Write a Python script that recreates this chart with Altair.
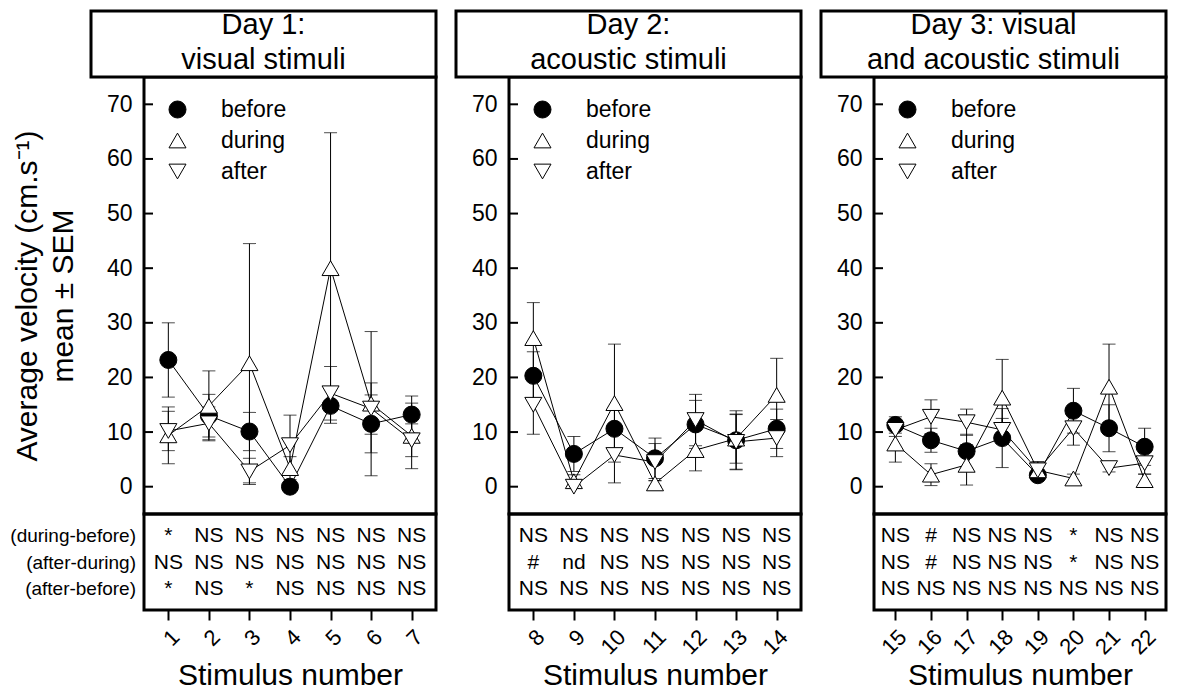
import altair as alt
import pandas as pd

FONT = "Liberation Sans"

# ---------------- data ----------------
stimulus = list(range(1, 23))
day = [1] * 7 + [2] * 7 + [3] * 8

before_mean = [23.2, 13.0, 10.1, 0.0, 14.8, 11.5, 13.2,
               20.3, 6.0, 10.6, 5.2, 11.4, 8.5, 10.6,
               11.3, 8.5, 6.5, 8.9, 2.1, 13.9, 10.7, 7.3]
before_sem = [6.8, 3.9, 3.5, 0.0, 3.2, 5.3, 3.4,
              4.4, 3.2, 4.0, 3.7, 4.4, 5.4, 3.6,
              1.5, 2.2, 3.1, 5.4, 0.8, 4.1, 4.3, 3.4]
during_mean = [9.4, 14.8, 22.6, 3.4, 40.0, 15.2, 9.3,
               27.2, 1.0, 15.3, 0.6, 6.7, 8.8, 16.8,
               7.9, 2.2, 4.0, 16.3, 3.0, 1.5, 18.3, 1.2]
during_sem = [5.2, 6.4, 21.9, 2.1, 24.8, 13.2, 6.0,
              6.5, 1.2, 10.8, 0.5, 3.8, 4.5, 6.7,
              3.4, 2.0, 3.7, 7.0, 1.5, 0.8, 7.8, 1.1]
after_mean = [10.2, 11.6, 2.8, 7.6, 17.1, 14.3, 8.5,
              15.0, 0.0, 5.8, 4.5, 12.2, 8.2, 8.9,
              10.4, 12.8, 11.8, 10.4, 3.0, 10.7, 3.4, 4.3]
after_sem = [3.6, 3.0, 2.4, 5.5, 4.9, 4.7, 3.0,
             5.4, 0.0, 5.1, 3.4, 4.7, 5.0, 3.4,
             1.2, 3.1, 2.4, 2.1, 1.6, 3.1, 0.7, 2.0]

series_names = ["before", "during", "after"]
series_shapes = ["circle", "triangle-up", "triangle-down"]
series_fills = ["black", "white", "white"]
series_strokes = ["black", "black", "black"]

comparisons = ["(during-before)", "(after-during)", "(after-before)"]
during_before = ["*", "NS", "NS", "NS", "NS", "NS", "NS",
                 "NS", "NS", "NS", "NS", "NS", "NS", "NS",
                 "NS", "#", "NS", "NS", "NS", "*", "NS", "NS"]
after_during = ["NS", "NS", "NS", "NS", "NS", "NS", "NS",
                "#", "nd", "NS", "NS", "NS", "NS", "NS",
                "NS", "#", "NS", "NS", "NS", "*", "NS", "NS"]
after_before = ["*", "NS", "*", "NS", "NS", "NS", "NS",
                "NS", "NS", "NS", "NS", "NS", "NS", "NS",
                "NS", "NS", "NS", "NS", "NS", "NS", "NS", "NS"]

panel_titles = ["Day 1:\nvisual stimuli", "Day 2:\nacoustic stimuli",
                "Day 3: visual\nand acoustic stimuli"]
y_ticks = [0, 10, 20, 30, 40, 50, 60, 70]
y_title = ["Average velocity (cm.s\u207b\u00b9)", "mean \u00b1 SEM"]
x_title = "Stimulus number"

# ---------------- tables ----------------
rows = []
for i, s in enumerate(stimulus):
    for name, m, e in [("before", before_mean, before_sem),
                       ("during", during_mean, during_sem),
                       ("after", after_mean, after_sem)]:
        rows.append(dict(stim=s, day=day[i], series=name, mean=m[i],
                         lo=m[i] - e[i], hi=m[i] + e[i]))
df = pd.DataFrame(rows)

sig_rows = []
for i, s in enumerate(stimulus):
    for comp, arr in zip(comparisons, [during_before, after_during, after_before]):
        sig_rows.append(dict(stim=s, day=day[i], comparison=comp, text=arr[i]))
sig_df = pd.DataFrame(sig_rows)

# ---------------- layout constants ----------------
W, H = 292, 437
ANN_H = 96
BOX_LEFT = -53
TITLE_H = 66


def legend():
    return alt.Legend(orient="none", legendX=22, legendY=21, title=None,
                      labelFontSize=23, labelColor="black",
                      symbolSize=290, symbolStrokeColor="black",
                      symbolStrokeWidth=1, labelOffset=32,
                      rowPadding=7, padding=0)


def panel(d):
    first = d == 1
    stims = [s for s, dd in zip(stimulus, day) if dd == d]
    data = df[df.day == d]
    sig = sig_df[sig_df.day == d]

    xs = alt.Scale(domain=[stims[0] - 0.6, stims[-1] + 0.6], nice=False, zero=False)
    x = alt.X("stim:Q", scale=xs,
              axis=alt.Axis(values=stims, offset=ANN_H, domain=False, grid=False,
                            tickSize=10, tickWidth=2, tickColor="black",
                            labelAngle=-45, labelFontSize=22, labelPadding=6,
                            labelColor="black", title=x_title, titleFontSize=30,
                            titleFontWeight="normal", titleColor="black",
                            titleBaseline="alphabetic", titleY=74))
    ys = alt.Scale(domain=[-5, 75], nice=False, zero=False)
    yaxis = alt.Axis(values=y_ticks, domain=False, ticks=False, tickSize=0, grid=False,
                     labelFontSize=23, labelPadding=12, labelColor="black",
                     title=y_title if first else None, titleFontSize=30,
                     titleFontWeight="normal", titleColor="black",
                     titlePadding=28, titleLineHeight=36)

    base = alt.Chart(data)
    lines = base.mark_line(color="black", strokeWidth=1).encode(
        x=x, y=alt.Y("mean:Q", scale=ys, axis=yaxis), detail="series:N", order="stim:Q")
    bars = base.mark_rule(color="black", strokeWidth=1).encode(
        x="stim:Q", y="lo:Q", y2="hi:Q")
    cap_lo = base.mark_tick(color="black", orient="horizontal", size=13, thickness=1).encode(
        x="stim:Q", y="lo:Q")
    cap_hi = base.mark_tick(color="black", orient="horizontal", size=13, thickness=1).encode(
        x="stim:Q", y="hi:Q")
    pts = base.mark_point(filled=True, strokeWidth=1, size=290, opacity=1).encode(
        x="stim:Q", y="mean:Q",
        shape=alt.Shape("series:N", scale=alt.Scale(domain=series_names, range=series_shapes),
                        legend=legend()),
        fill=alt.Fill("series:N", scale=alt.Scale(domain=series_names, range=series_fills),
                      legend=legend()),
        stroke=alt.Stroke("series:N", scale=alt.Scale(domain=series_names, range=series_strokes),
                          legend=legend()))
    yt = alt.Chart(pd.DataFrame({"v": y_ticks})).mark_rule(color="black", strokeWidth=2).encode(
        y="v:Q", x=alt.value(0), x2=alt.value(9))

    one = alt.Data(values=[{"t": panel_titles[d - 1]}])
    title_box = alt.Chart(one).mark_rect(fill="white", stroke="black", strokeWidth=3).encode(
        x=alt.value(BOX_LEFT), x2=alt.value(W), y=alt.value(-TITLE_H), y2=alt.value(0))
    title_text = alt.Chart(one).mark_text(fontSize=29, lineBreak="\n", lineHeight=34.5,
                                          baseline="middle", align="center", color="black").encode(
        text="t:N", x=alt.value((BOX_LEFT + W) / 2), y=alt.value(-52))
    ann_box = alt.Chart(one).mark_rect(fill=None, stroke="black", strokeWidth=3, filled=False).encode(
        x=alt.value(0), x2=alt.value(W), y=alt.value(H), y2=alt.value(H + ANN_H))

    inner = alt.layer(title_box, title_text, lines, bars, cap_lo, cap_hi, pts, yt, ann_box)

    row_scale = alt.Scale(type="point", domain=comparisons, range=[H + 22, H + 75], padding=0)
    ann_text = alt.Chart(sig).mark_text(fontSize=21, baseline="middle", align="center",
                                        color="black").encode(
        x="stim:Q", y=alt.Y("comparison:N", scale=row_scale, axis=None), text="text:N")
    layers = [inner, ann_text]
    if first:
        row_labels = alt.Chart(pd.DataFrame({"comparison": comparisons})).mark_text(
            fontSize=19, baseline="middle", align="right", color="black").encode(
            x=alt.value(-8), y=alt.Y("comparison:N", scale=row_scale, axis=None),
            text="comparison:N")
        layers.append(row_labels)
    return alt.layer(*layers).resolve_scale(y="independent").properties(width=W, height=H)


chart = alt.hconcat(panel(1), panel(2), panel(3), spacing=14).resolve_scale(
    shape="independent", fill="independent", stroke="independent").configure(
    font=FONT, background="white").configure_view(
    stroke="black", strokeWidth=3).properties(padding=0)

chart.save("out.html", embed_options={"renderer": "svg", "actions": False})
